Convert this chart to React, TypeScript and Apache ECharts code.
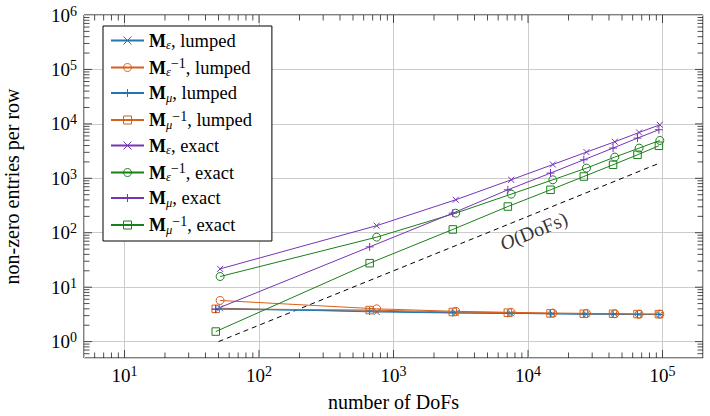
import React, { useEffect, useRef } from 'react';
import * as echarts from 'echarts';

// Degrees of freedom of the meshes (ε- and μ-type unknowns live on slightly different counts)
const dofsEps = [51.4, 750, 2900, 7500, 15300, 27200, 44200, 67000, 95500];
const dofsMu = [47.7, 665, 2760, 7080, 14700, 26000, 42900, 65200, 94000];

// Non-zero entries per row
const mEpsLumped = [4.1, 3.5, 3.35, 3.3, 3.25, 3.2, 3.2, 3.15, 3.15];
const mEpsInvLumped = [5.7, 4.0, 3.6, 3.45, 3.35, 3.3, 3.25, 3.2, 3.2];
const mMuLumped = [3.95, 3.65, 3.4, 3.3, 3.25, 3.2, 3.2, 3.15, 3.15];
const mMuInvLumped = [4.0, 3.8, 3.5, 3.4, 3.3, 3.25, 3.25, 3.2, 3.2];
const mEpsExact = [21.7, 135, 403, 938, 1794, 3030, 4690, 6950, 9620];
const mEpsInvExact = [15.7, 83, 229, 512, 938, 1540, 2454, 3590, 4955];
const mMuExact = [3.94, 55, 229, 615, 1247, 2188, 3590, 5480, 7800];
const mMuInvExact = [1.53, 27.6, 115, 303, 615, 1079, 1771, 2704, 3958];

// Reference slope O(DoFs)
const refDofs = [50, 95500];
const refEntries = [1, 1910];
const refLabelAt = [11000, 108];

// Axis ranges
const X_MIN = 5;
const X_MAX = 2e5;
const Y_MIN = 0.5;
const Y_MAX = 1e6;

const FONT = 'Liberation Serif';
const BLUE = '#1f77b4';
const ORANGE = '#d95f1a';
const PURPLE = '#7634b8';
const GREEN = '#1a7f1a';

const CROSS = 'path://M0,0L10,10M0,10L10,0';
const PLUS = 'path://M5,0L5,10M0,5L10,5';

const pairs = (xs: number[], ys: number[]) => xs.map((x, i) => [x, ys[i]]);

type Def = {
  name: string;
  label: string;
  xs: number[];
  ys: number[];
  color: string;
  symbol: string;
  size: number;
};

const defs: Def[] = [
  { name: 'Mε, lumped', label: '{m|M}{sub|ε}{t|, lumped}', xs: dofsEps, ys: mEpsLumped, color: BLUE, symbol: CROSS, size: 6 },
  { name: 'Mε⁻¹, lumped', label: '{m|M}{sub|ε}{sup|−1}{t|, lumped}', xs: dofsEps, ys: mEpsInvLumped, color: ORANGE, symbol: 'circle', size: 8 },
  { name: 'Mμ, lumped', label: '{m|M}{sub|μ}{t|, lumped}', xs: dofsMu, ys: mMuLumped, color: BLUE, symbol: PLUS, size: 8 },
  { name: 'Mμ⁻¹, lumped', label: '{m|M}{sub|μ}{sup|−1}{t|, lumped}', xs: dofsMu, ys: mMuInvLumped, color: ORANGE, symbol: 'rect', size: 7.5 },
  { name: 'Mε, exact', label: '{m|M}{sub|ε}{t|, exact}', xs: dofsEps, ys: mEpsExact, color: PURPLE, symbol: CROSS, size: 6 },
  { name: 'Mε⁻¹, exact', label: '{m|M}{sub|ε}{sup|−1}{t|, exact}', xs: dofsEps, ys: mEpsInvExact, color: GREEN, symbol: 'circle', size: 8 },
  { name: 'Mμ, exact', label: '{m|M}{sub|μ}{t|, exact}', xs: dofsMu, ys: mMuExact, color: PURPLE, symbol: PLUS, size: 8 },
  { name: 'Mμ⁻¹, exact', label: '{m|M}{sub|μ}{sup|−1}{t|, exact}', xs: dofsMu, ys: mMuInvExact, color: GREEN, symbol: 'rect', size: 7.5 },
];

const legendText: Record<string, string> = {};
defs.forEach((d) => (legendText[d.name] = d.label));

// Tick marks of a log axis: decades are major, 2..9 multiples minor
function logTicks(min: number, max: number) {
  const out: number[][] = [];
  const lo = Math.floor(Math.log10(min));
  const hi = Math.ceil(Math.log10(max));
  for (let d = lo; d <= hi; d++) {
    for (let m = 1; m <= 9; m++) {
      const v = m * Math.pow(10, d);
      if (v > min * 1.0001 && v < max / 1.0001) out.push([v, m === 1 ? 8 : 5.5]);
    }
  }
  return out;
}

const tickFormatter = (v: number) => {
  const e = Math.log10(v);
  const r = Math.round(e);
  if (Math.abs(e - r) > 1e-6) return '';
  return `{b|10}{s|${r}}`;
};

const tickRich = {
  b: { fontFamily: FONT, fontSize: 19, lineHeight: 22, color: '#000' },
  s: { fontFamily: FONT, fontSize: 14, lineHeight: 14, verticalAlign: 'top', color: '#000' },
};

const TICK_STYLE = { stroke: '#222', lineWidth: 0.8 };

function buildOption(): any {
  const lineSeries = defs.map((d) => ({
    name: d.name,
    type: 'line',
    data: pairs(d.xs, d.ys),
    symbol: d.symbol,
    symbolSize: d.size,
    showSymbol: true,
    lineStyle: { color: d.color, width: 1 },
    itemStyle: { color: 'transparent', borderColor: d.color, borderWidth: 1 },
    z: 3,
  }));

  return {
    animation: false,
    backgroundColor: '#fff',
    grid: {
      left: 84,
      right: 7,
      top: 15,
      bottom: 58,
      containLabel: false,
      outerBoundsMode: 'none',
      show: true,
      borderColor: '#000',
      borderWidth: 1,
      backgroundColor: 'transparent',
    },
    legend: {
      orient: 'vertical',
      left: 103,
      top: 26,
      padding: [5, 20, 5, 7],
      itemWidth: 33,
      itemHeight: 10,
      itemGap: 5,
      selectedMode: false,
      borderColor: '#000',
      borderWidth: 1,
      backgroundColor: '#fff',
      itemStyle: { borderWidth: 1 },
      data: defs.map((d) => d.name),
      formatter: (name: string) => legendText[name],
      textStyle: {
        fontFamily: FONT,
        color: '#000',
        rich: {
          m: { fontFamily: FONT, fontWeight: 'bold', fontSize: 18, lineHeight: 22, color: '#000' },
          sub: { fontFamily: FONT, fontStyle: 'italic', fontSize: 12.5, lineHeight: 14, verticalAlign: 'bottom', color: '#000' },
          sup: { fontFamily: FONT, fontSize: 14, lineHeight: 12, verticalAlign: 'top', color: '#000' },
          t: { fontFamily: FONT, fontSize: 18.5, lineHeight: 22, color: '#000' },
        },
      },
    },
    xAxis: {
      type: 'log',
      logBase: 10,
      min: X_MIN,
      max: X_MAX,
      name: 'number of DoFs',
      nameLocation: 'middle',
      nameGap: 34,
      nameTextStyle: { fontFamily: FONT, fontSize: 20, color: '#000' },
      axisLine: { show: false },
      axisTick: { show: false },
      axisLabel: { formatter: tickFormatter, margin: 6, rich: tickRich },
      splitLine: { show: true, lineStyle: { color: '#cccccc', width: 1 } },
      minorSplitLine: { show: false },
    },
    yAxis: {
      type: 'log',
      logBase: 10,
      min: Y_MIN,
      max: Y_MAX,
      name: 'non-zero entries per row',
      nameLocation: 'middle',
      nameGap: 62,
      nameRotate: 90,
      nameTextStyle: { fontFamily: FONT, fontSize: 20, color: '#000' },
      axisLine: { show: false },
      axisTick: { show: false },
      axisLabel: { formatter: tickFormatter, margin: 7, rich: tickRich },
      splitLine: { show: true, lineStyle: { color: '#cccccc', width: 1 } },
    },
    series: [
      // tick marks on bottom and top edges
      {
        type: 'custom',
        silent: true,
        clip: false,
        z: 4,
        data: logTicks(X_MIN, X_MAX).map(([v, len]) => [v, 1, len]),
        encode: { x: 0, y: 1 },
        renderItem: (params: any, api: any) => {
          const cs = params.coordSys;
          const p = api.coord([api.value(0), 1]);
          const len = api.value(2);
          const b = cs.y + cs.height;
          return {
            type: 'group',
            children: [
              { type: 'line', shape: { x1: p[0], y1: b, x2: p[0], y2: b - len }, style: TICK_STYLE },
              { type: 'line', shape: { x1: p[0], y1: cs.y, x2: p[0], y2: cs.y + len }, style: TICK_STYLE },
            ],
          };
        },
      },
      // tick marks on left and right edges
      {
        type: 'custom',
        silent: true,
        clip: false,
        z: 4,
        data: logTicks(Y_MIN, Y_MAX).map(([v, len]) => [10, v, len]),
        encode: { x: 0, y: 1 },
        renderItem: (params: any, api: any) => {
          const cs = params.coordSys;
          const p = api.coord([10, api.value(1)]);
          const len = api.value(2);
          const r = cs.x + cs.width;
          return {
            type: 'group',
            children: [
              { type: 'line', shape: { x1: cs.x, y1: p[1], x2: cs.x + len, y2: p[1] }, style: TICK_STYLE },
              { type: 'line', shape: { x1: r, y1: p[1], x2: r - len, y2: p[1] }, style: TICK_STYLE },
            ],
          };
        },
      },
      // O(DoFs) guide
      {
        type: 'line',
        name: 'O(DoFs)',
        data: pairs(refDofs, refEntries),
        symbol: 'none',
        lineStyle: { color: '#000', width: 1, type: [5, 4] },
        z: 2,
        silent: true,
      },
      {
        type: 'scatter',
        data: [refLabelAt],
        symbolSize: 0,
        silent: true,
        z: 2,
        label: {
          show: true,
          position: 'inside',
          rotate: 22,
          formatter: '{i|O}{n|(DoFs)}',
          rich: {
            i: { fontFamily: FONT, fontStyle: 'italic', fontSize: 20, color: '#000' },
            n: { fontFamily: FONT, fontSize: 20, color: '#000' },
          },
        },
      },
      ...lineSeries,
    ],
  };
}

export default function App() {
  const ref = useRef<HTMLDivElement>(null);
  useEffect(() => {
    if (!ref.current) return;
    const chart = echarts.init(ref.current, undefined, { renderer: 'svg' });
    chart.setOption(buildOption());
    return () => chart.dispose();
  }, []);
  return (
    <div
      ref={ref}
      style={{ position: 'absolute', left: 0, top: 0, width: 710, height: 416, background: '#fff' }}
    />
  );
}
